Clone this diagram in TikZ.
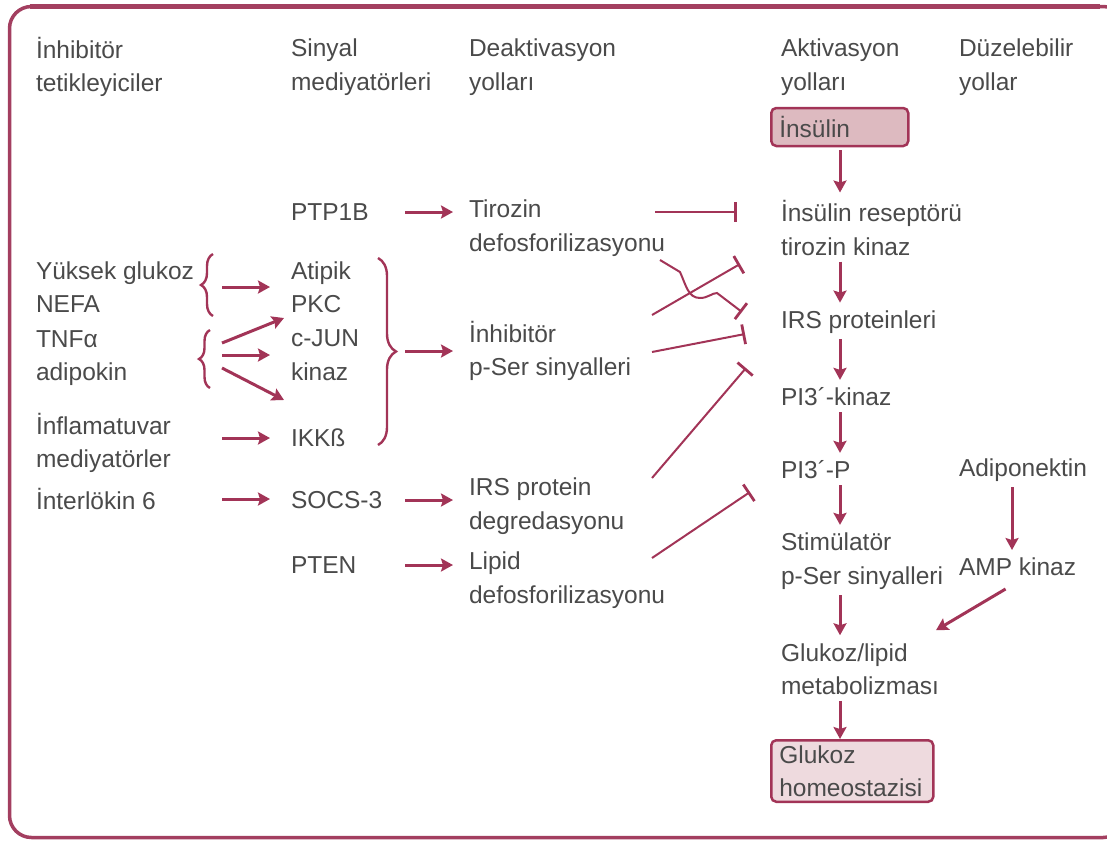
\documentclass[tikz,border=0pt]{standalone}
\usepackage{fontspec}
\setmainfont{Liberation Sans}
\usetikzlibrary{arrows.meta, calc, decorations.pathreplacing}
\definecolor{cmaroon}{HTML}{A23457}
\definecolor{cframe}{HTML}{A33F60}
\definecolor{cboxdark}{HTML}{DDBAC0}
\definecolor{cboxlight}{HTML}{EEDADE}
\definecolor{ctext}{HTML}{4A4A4A}
\tikzset{
  every picture/.style={line width=2pt},
  lbl/.style={anchor=west, align=left, inner sep=2pt, text=ctext, font=\fontsize{24.5}{33.5}\selectfont},
  hbox/.style={lbl, draw=cmaroon, rounded corners=5pt, line width=2.5pt, inner xsep=8pt, inner ysep=4pt},
  arrow/.style={-{Stealth[length=12pt, width=13pt, inset=2pt]}, draw=cmaroon, line width=3pt},
  varrow/.style={arrow, shorten <=3pt, shorten >=5pt},
  inhib/.style={-{Bar[width=20pt, line width=2.8pt]}, draw=cmaroon, line width=2pt},
  brc/.style={decorate, draw=cmaroon, line width=2.4pt},
}
\begin{document}
\begin{tikzpicture}[x=1pt, y=-1pt]
  \useasboundingbox (0,0) rectangle (1107,841);
  % frame
  \begin{scope}
    \clip (0,0) rectangle (1107,841);
    \draw[cframe, line width=3.5pt, rounded corners=22pt] (9.5,6.5) rectangle (1125,837.5);
    \draw[cframe, line width=5pt] (30,6) -- (1100,6);
  \end{scope}

  % column heads
  \node[lbl] (h1) at (33,67) {İnhibitör\\tetikleyiciler};
  \node[lbl] (h2) at (288,67) {Sinyal\\mediyatörleri};
  \node[lbl] (h3) at (466,67) {Deaktivasyon\\yolları};
  \node[lbl] (h4) at (778,67) {Aktivasyon\\yolları};
  \node[lbl] (h5) at (956,67) {Düzelebilir\\yollar};

  % triggers
  \node[lbl] (yg) at (33,287) {Yüksek glukoz\\NEFA};
  \node[lbl] (tnf) at (33,358) {TNFα\\adipokin};
  \node[lbl] (inf) at (33,443) {İnflamatuvar\\mediyatörler};
  \node[lbl] (il6) at (33,499) {İnterlökin 6};

  % mediators
  \node[lbl] (ptp) at (288,212) {PTP1B};
  \node[lbl] (pkc) at (288,287) {Atipik\\PKC};
  \node[lbl] (jun) at (288,355) {c-JUN\\kinaz};
  \node[lbl] (ikk) at (288,438) {IKKß};
  \node[lbl] (socs) at (288,500) {SOCS-3};
  \node[lbl] (pten) at (288,565) {PTEN};

  % deactivation
  \node[lbl] (tir) at (466,228) {Tirozin\\defosforilizasyonu};
  \node[lbl] (pser) at (466,351) {İnhibitör\\p-Ser sinyalleri};
  \node[lbl] (irsdeg) at (466,506) {IRS protein\\degredasyonu};
  \node[lbl] (lipid) at (466,580) {Lipid\\defosforilizasyonu};

  % activation
  \node[hbox, fill=cboxdark, text width=121pt, minimum height=38pt] (ins) at (770,127) {İnsülin};
  \node[lbl] (rec) at (778,228) {İnsülin reseptörü\\tirozin kinaz};
  \node[lbl] (irs) at (778,322) {IRS proteinleri};
  \node[lbl] (pik) at (778,397) {PI3´-kinaz};
  \node[lbl] (pip) at (778,470) {PI3´-P};
  \node[lbl] (stim) at (778,561) {Stimülatör\\p-Ser sinyalleri};
  \node[lbl] (glm) at (778,669) {Glukoz/lipid\\metabolizması};
  \node[hbox, fill=cboxlight, text width=146pt, inner ysep=5pt] (gh) at (770,771) {Glukoz\\homeostazisi};

  % restorable
  \node[lbl] (adp) at (956,470) {Adiponektin};
  \node[lbl] (amp) at (956,567) {AMP kinaz};

  % arrow columns
  \coordinate (c1a) at (222,0);
  \coordinate (c1b) at (270,0);
  \coordinate (c2a) at (405,0);
  \coordinate (c2b) at (453,0);
  \coordinate (ax) at (840,0);
  \coordinate (bx) at (1012,0);

  % braces
  \draw[brc, decoration={brace, amplitude=12pt}] (213,316) -- (213,254);
  \draw[brc, decoration={brace, amplitude=11pt}] (210,388) -- (210,330);
  \draw[brc, decoration={brace, amplitude=18pt}] (378,258) -- (378,445);

  % triggers -> mediators
  \draw[arrow] (c1a |- pkc) -- (c1b |- pkc);
  \coordinate (f1) at (222,343);
  \coordinate (f3) at (222,368);
  \coordinate (g1) at (284,318);
  \coordinate (g3) at (284,400);
  \draw[arrow] (f1) -- (g1);
  \draw[arrow] (c1a |- jun) -- (c1b |- jun);
  \draw[arrow] (f3) -- (g3);
  \draw[arrow] (c1a |- ikk) -- (c1b |- ikk);
  \draw[arrow] (c1a |- il6) -- (c1b |- il6);

  % mediators -> deactivation
  \draw[arrow] (c2a |- ptp) -- (c2b |- ptp);
  \draw[arrow] (c2a |- pser) -- (c2b |- pser);
  \draw[arrow] (c2a |- socs) -- (c2b |- socs);
  \draw[arrow] (c2a |- pten) -- (c2b |- pten);

  % activation chain
  \draw[varrow] (ax |- ins.south) -- (ax |- rec.north);
  \draw[varrow] (ax |- rec.south) -- (ax |- irs.north);
  \draw[varrow] (ax |- irs.south) -- (ax |- pik.north);
  \draw[varrow] (ax |- pik.south) -- (ax |- pip.north);
  \draw[varrow] (ax |- pip.south) -- (ax |- stim.north);
  \draw[varrow] (ax |- stim.south) -- (ax |- glm.north);
  \draw[varrow, shorten >=0pt] (ax |- glm.south) -- (ax |- gh.north);
  \draw[varrow] (bx |- adp.south) -- (bx |- amp.north);
  \draw[arrow] ($(amp.south)+(-12,10)$) -- ($(glm.north east)+(-6,-10)$);

  % inhibitions
  \coordinate (i1) at (655,212);
  \coordinate (e1) at (737,212);
  \coordinate (i2) at (660,260);
  \coordinate (e2) at (742,312);
  \coordinate (i3) at (652,315);
  \coordinate (e3) at (740,264);
  \coordinate (i4) at (652,352);
  \coordinate (e4) at (745,334);
  \coordinate (i5) at (652,478);
  \coordinate (e5) at (746,368);
  \coordinate (i6) at (652,558);
  \coordinate (e6) at (750,492);
  \draw[inhib] (i1) -- (e1);
  \draw[inhib] (i2) -- (680,272) .. controls (686,285) and (688,298) .. (700,298)
    .. controls (708,298) and (712,293) .. (717,293) -- (e2);
  \draw[inhib] (i3) -- (e3);
  \draw[inhib] (i4) -- (e4);
  \draw[inhib] (i5) -- (e5);
  \draw[inhib] (i6) -- (e6);
\end{tikzpicture}
\end{document}
